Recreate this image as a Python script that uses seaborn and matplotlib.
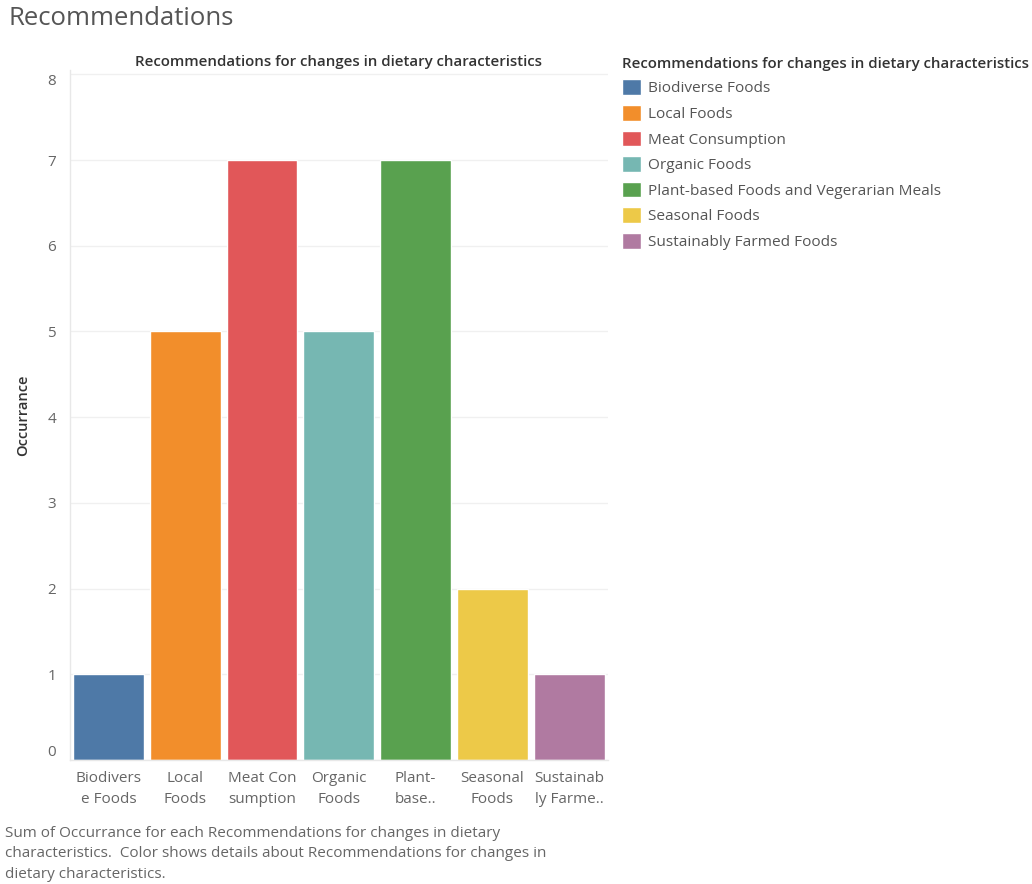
import matplotlib
matplotlib.use("Agg")
import matplotlib.pyplot as plt
import seaborn as sns
import pandas as pd

categories = ["Biodiverse Foods", "Local Foods", "Meat Consumption", "Organic Foods",
              "Plant-based Foods and Vegerarian Meals", "Seasonal Foods",
              "Sustainably Farmed Foods"]
tick_labels = ["Biodivers\ne Foods", "Local\nFoods", "Meat Con\nsumption", "Organic\nFoods",
               "Plant-\nbase..", "Seasonal\nFoods", "Sustainab\nly Farme.."]
occurrance = [1, 5, 7, 5, 7, 2, 1]
colors = ["#4E79A7", "#F28E2B", "#E15759", "#76B7B2", "#59A14F", "#EDC948", "#B07AA1"]
y_ticks = [0, 1, 2, 3, 4, 5, 6, 7, 8]

sns.set_theme(style="white")
plt.rcParams["font.family"] = ["Open Sans", "DejaVu Sans"]

df = pd.DataFrame({"cat": categories, "val": occurrance})

fig = plt.figure(figsize=(10.32, 8.84), dpi=100)
ax = fig.add_axes([0.0678, 0.1403, 0.521, 0.7805])

sns.barplot(data=df, x="cat", y="val", hue="cat", order=categories, hue_order=categories,
            palette=colors, dodge=False, width=0.92, saturation=1, ax=ax, legend=True)

ax.set_xlim(-0.5, 6.5)
ax.set_ylim(0, 8.05)
ax.set_yticks(y_ticks)
ax.set_yticklabels([str(t) for t in y_ticks], color="#666666", fontsize=11)
ylabels = ax.get_yticklabels()
ylabels[0].set_va("bottom")
ylabels[-1].set_va("top")
ax.set_xticks(range(len(categories)))
ax.set_xticklabels(tick_labels, color="#666666", fontsize=11, linespacing=1.5)
ax.tick_params(axis="both", length=0)
ax.tick_params(axis="y", pad=10)
ax.tick_params(axis="x", pad=8)
ax.grid(axis="y", color="#f0f0f0", linewidth=1)
ax.set_axisbelow(True)
for s in ["top", "right"]:
    ax.spines[s].set_visible(False)
for s in ["left", "bottom"]:
    ax.spines[s].set_color("#e8e8e8")
    ax.spines[s].set_linewidth(1)

ax.set_xlabel("")
ax.set_ylabel("Occurrance", fontsize=10.5, color="#333333", fontweight="semibold")
ax.yaxis.set_label_coords(-0.075, 0.5)
ax.set_title("Recommendations for changes in dietary characteristics", fontsize=10.8,
             fontweight="semibold", color="#333333", pad=3)

sns.move_legend(ax, loc="upper left", bbox_to_anchor=(1.016, 1.028), frameon=False,
                title="Recommendations for changes in dietary characteristics",
                fontsize=11.1, title_fontsize=10.8, handlelength=1.2, handleheight=1.2,
                handletextpad=0.45, labelspacing=0.55, alignment="left", borderaxespad=0)
leg = ax.get_legend()
leg.get_title().set_fontweight("semibold")
leg.get_title().set_color("#333333")
for t in leg.get_texts():
    t.set_color("#555555")

fig.text(0.008, 0.993, "Recommendations", fontsize=18.5, color="#555555", ha="left", va="top")
fig.text(0.005, 0.066,
         "Sum of Occurrance for each Recommendations for changes in dietary\n"
         "characteristics.  Color shows details about Recommendations for changes in\n"
         "dietary characteristics.",
         fontsize=11, color="#666666", ha="left", va="top", linespacing=1.5)

fig.savefig("out.png", dpi=100)
